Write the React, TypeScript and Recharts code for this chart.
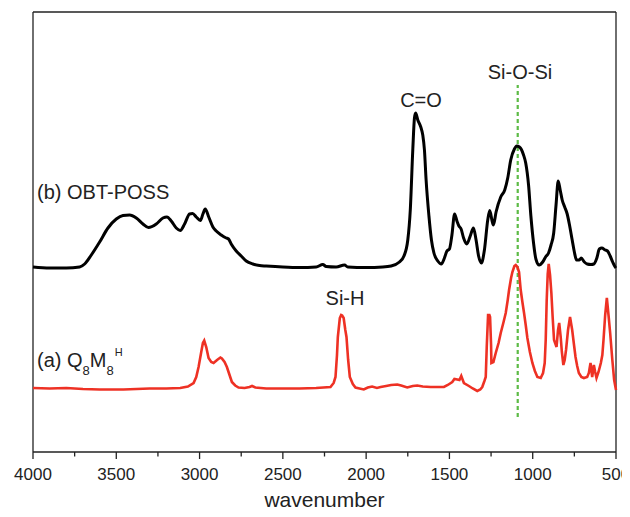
import React from "react";
import { LineChart, Line, XAxis, YAxis, ReferenceLine } from "recharts";

// wavenumber (cm-1) / arbitrary absorbance units
const obtWavenumber = [4000,3900,3800,3720,3690,3650,3600,3550,3500,3460,3420,3380,3340,3307,3260,3220,3196,3170,3140,3116,3090,3060,3042,3020,2995,2980,2966,2945,2920,2900,2870,2840,2826,2810,2780,2750,2720,2680,2640,2600,2500,2400,2300,2260,2240,2180,2130,2110,2000,1900,1850,1800,1773,1750,1735,1720,1710,1703,1690,1672,1660,1650,1640,1623,1608,1593,1570,1549,1530,1515,1500,1485,1469,1455,1443,1430,1415,1396,1375,1356,1340,1325,1308,1290,1270,1258,1245,1236,1220,1192,1168,1150,1132,1110,1096,1080,1068,1055,1042,1025,1011,995,981,961,940,921,905,890,874,860,847,835,823,808,793,778,763,750,737,720,709,690,673,650,633,615,600,585,565,551,535,520,505,500];
const obtValues = [185,184,184,185,188,197,210,224,233,236.5,237,234,228,224.5,228,234,235,231,224,221.5,228,238,238.5,235,231.5,238,243,235,225,221,217,214,213,208,201,196,191,188,186.5,186,185,184.5,185,187.5,185.5,185,187,185,184.5,185,186,190,196,212,242,302,334,339,332,325,317,302,272,236,212,199,191,188,194,201,203,217,238,231,226,223,214,208,216,224,212,196,189,202,232,241.5,232,227,240,255,262,274,292,303,306,305,302.5,297,289,267,236,209,193,187,190,195.5,199,207,219,247,271,262,252,245,238,226,212,200,192,192,194,190,188,187.5,188,194,203,204,202,201,196,190,185,184];

const q8Wavenumber = [4000,3900,3800,3700,3600,3457,3300,3200,3116,3070,3036,3020,3006,2990,2980,2972,2960,2946,2930,2916,2895,2875,2866,2850,2836,2820,2806,2786,2766,2730,2700,2685,2665,2600,2500,2400,2300,2214,2195,2184,2175,2170,2158,2150,2144,2135,2125,2118,2108,2098,2080,2064,2040,2014,1990,1964,1935,1913,1880,1850,1813,1790,1753,1720,1693,1660,1613,1570,1533,1510,1483,1470,1453,1440,1429,1420,1413,1383,1360,1333,1315,1303,1290,1282,1276,1268,1260,1256,1250,1248,1236,1222,1205,1192,1175,1162,1150,1142,1130,1122,1110,1102,1092,1082,1072,1062,1052,1042,1032,1017,1002,987,972,952,938,928,922,916,910,904,896,888,880,872,857,848,841,832,825,816,808,800,788,776,763,752,743,733,723,708,693,673,663,653,643,633,625,617,605,591,582,575,565,555,545,535,522,511,500];
const q8Values = [64,63.5,64,63,62.5,62.5,63.5,63.5,64,65.5,69,75,85,100,109,111.5,105,94,90,89,92,94.5,93.5,90,85,77,70,66.5,64.5,64,65,66,64.5,63.5,63.5,63.5,64,65,69,75,97,115,134,137,136.5,134,122,115,92,75,68,64.5,63.5,62.5,64.5,65.5,64,65,66,67,67.5,66.5,64.5,66,66.5,65.5,65,65,65,67,70,73,72.5,72,76,72,69,66,63.5,61,62.5,65,71,75,105,137,137,135,107,89,90,99,109,119,130,139,152,162,174,180,186,187,185,180,162,150,139,127,114,100,89,81,75,74,79,89,112,152,178,188,177,159,134,112,105,122,129,115,100,87,92,102,122,135,122,107,95,86,79,75,74,75,79,89,75,87,80,74,80,89,97,112,137,154,137,119,92,72,62];

const xTicks = [4000,3750,3500,3250,3000,2750,2500,2250,2000,1750,1500,1250,1000,750,500];
const xDomain = [500, 4000];
const yDomain = [0, 440];
const siOSiPosition = 1090;
const siOSiRange = [35, 367];

const FONT = "'Liberation Sans', Arial, Helvetica, sans-serif";
const FRAME = "#222";

const obtData = obtWavenumber.map((w, i) => ({ w, v: obtValues[i] }));
const q8Data = q8Wavenumber.map((w, i) => ({ w, v: q8Values[i] }));

const Tick = (props: any) => {
  const { x, y, payload } = props;
  const major = payload.value % 500 === 0;
  return (
    <g>
      <line x1={x} x2={x} y1={y} y2={y + (major ? 7 : 4.5)} stroke={FRAME} strokeWidth={1.3} />
      {major && (
        <text x={x} y={y + 28} textAnchor="middle" fontSize={17} fontFamily={FONT} fill="#222">
          {payload.value}
        </text>
      )}
    </g>
  );
};

export default function App() {
  return (
    <div style={{ width: 622, height: 509 }}>
      <LineChart width={622} height={509} margin={{ top: 4, right: 14, bottom: 15, left: 25 }}>
        <XAxis
          xAxisId="b"
          dataKey="w"
          type="number"
          domain={xDomain}
          reversed
          ticks={xTicks}
          interval={0}
          tickSize={0}
          tickMargin={0}
          tickLine={false}
          tick={<Tick />}
          height={50}
          axisLine={{ stroke: FRAME, strokeWidth: 1.3 }}
          allowDuplicatedCategory={false}
          label={{ value: "wavenumber", position: "insideBottom", offset: -5, fontSize: 21, fontFamily: FONT, fill: "#222" }}
        />
        <YAxis yAxisId="l" type="number" domain={yDomain} hide />
        <ReferenceLine xAxisId="b" yAxisId="l" x={xDomain[1]} stroke={FRAME} strokeWidth={1.3} />
        <ReferenceLine xAxisId="b" yAxisId="l" x={xDomain[0]} stroke={FRAME} strokeWidth={1.3} />
        <ReferenceLine xAxisId="b" yAxisId="l" y={yDomain[1]} stroke={FRAME} strokeWidth={1.3} />
        <ReferenceLine
          xAxisId="b"
          yAxisId="l"
          segment={[{ x: siOSiPosition, y: siOSiRange[0] }, { x: siOSiPosition, y: siOSiRange[1] }]}
          stroke="#5DBB46"
          strokeWidth={2.2}
          strokeDasharray="4 3"
        />
        <Line xAxisId="b" yAxisId="l" data={obtData} dataKey="v" type="monotone" stroke="#000" strokeWidth={3} dot={false} isAnimationActive={false} />
        <Line xAxisId="b" yAxisId="l" data={q8Data} dataKey="v" type="linear" stroke="#EE3124" strokeWidth={2.6} dot={false} isAnimationActive={false} />
        <text x={512} y={71} textAnchor="middle" fontSize={20} fontFamily={FONT} fill="#222">Si-O-Si</text>
        <text x={413} y={99} textAnchor="middle" fontSize={20} fontFamily={FONT} fill="#222">C=O</text>
        <text x={337} y={297} textAnchor="middle" fontSize={20} fontFamily={FONT} fill="#222">Si-H</text>
        <text x={29} y={191} fontSize={20} fontFamily={FONT} fill="#222">(b) OBT-POSS</text>
        <text x={29} y={359} fontSize={20} fontFamily={FONT} fill="#222">
          (a) Q<tspan fontSize={13} dy={8}>8</tspan>
          <tspan dy={-8}>M</tspan>
          <tspan fontSize={13} dy={8}>8</tspan>
          <tspan fontSize={11} dx={1} dy={-19}>H</tspan>
        </text>
      </LineChart>
    </div>
  );
}
